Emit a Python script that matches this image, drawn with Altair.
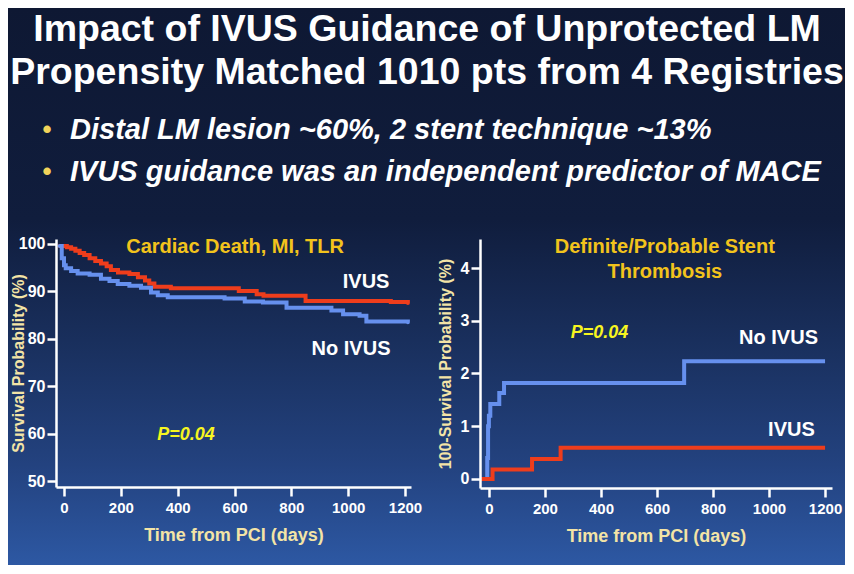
import altair as alt
import pandas as pd

FONT = "Liberation Sans, Arial, Helvetica, sans-serif"
RED = "#ee3d1c"
BLUE = "#6690ee"
WHITE = "#ffffff"
GOLD = "#f2c31c"
CREAM = "#f3e4a6"
PYEL = "#f7f520"

# ---------------- header text ----------------
title_lines = ["Impact of IVUS Guidance of Unprotected LM",
               "Propensity Matched 1010 pts from 4 Registries"]
bullet_lines = ["Distal LM lesion ~60%, 2 stent technique ~13%",
                "IVUS guidance was an independent predictor of MACE"]

# ---------------- left panel: Cardiac Death, MI, TLR ----------------
left_ivus_day = [-15, 10, 25, 40, 55, 71, 90, 110, 130, 150, 165, 190, 230, 260,
                 285, 300, 318, 376, 615, 678, 702, 850, 1150, 1210]
left_ivus_val = [99.6, 99.3, 99.0, 98.6, 98.1, 97.7, 97.0, 96.4, 95.9, 95.3, 94.5,
                 94.0, 93.7, 93.0, 92.3, 91.7, 91.0, 90.7, 90.1, 89.4, 89.1, 88.0,
                 87.8, 87.6]
left_noivus_day = [-15, -8, 0, 6, 25, 48, 90, 130, 160, 189, 230, 271, 306, 330,
                   365, 565, 636, 700, 783, 941, 982, 1040, 1064, 1210]
left_noivus_val = [99.6, 97.0, 95.5, 94.9, 94.3, 93.8, 93.5, 92.7, 92.2, 91.6,
                   91.2, 90.8, 89.8, 89.2, 88.8, 88.5, 87.9, 87.7, 86.6, 86.0,
                   85.2, 84.9, 83.7, 83.5]

# ---------------- right panel: Stent thrombosis ----------------
right_noivus_day = [-30, -10, -6, -3, 0, 5, 37, 54, 697, 1200]
right_noivus_val = [0.0, 0.0, 0.4, 1.0, 1.2, 1.42, 1.63, 1.82, 2.23, 2.23]
right_ivus_day = [-30, 13, 154, 256, 1200]
right_ivus_val = [0.0, 0.18, 0.38, 0.59, 0.59]

groups = ["IVUS", "No IVUS"]
colors = [RED, BLUE]

x_ticks = [0, 200, 400, 600, 800, 1000, 1200]
left_y_ticks = [50, 60, 70, 80, 90, 100]
right_y_ticks = [0, 1, 2, 3, 4]

# annotations (data coordinates)
left_ann_text = ["Cardiac Death, MI, TLR", "IVUS", "No IVUS", "P=0.04"]
left_ann_day = [602, 1063, 1010, 429]
left_ann_val = [99.4, 92.0, 77.9, 59.8]
right_ann_text = ["Definite/Probable Stent", "Thrombosis", "No IVUS", "IVUS", "P=0.04"]
right_ann_day = [628, 628, 1034, 1080, 395]
right_ann_val = [4.40, 3.92, 2.67, 0.93, 2.77]

left_df = pd.concat([
    pd.DataFrame({"day": left_ivus_day, "val": left_ivus_val, "group": "IVUS"}),
    pd.DataFrame({"day": left_noivus_day, "val": left_noivus_val, "group": "No IVUS"}),
])
right_df = pd.concat([
    pd.DataFrame({"day": right_noivus_day, "val": right_noivus_val, "group": "No IVUS"}),
    pd.DataFrame({"day": right_ivus_day, "val": right_ivus_val, "group": "IVUS"}),
])

color_scale = alt.Scale(domain=groups, range=colors)

one = pd.DataFrame({"k": [0]})

LW, LH = 355, 248
RW, RH = 352, 249

# background gradient rect (its own tiny view, drawn first; pixel coords
# relative to the left panel's plot origin)
gradient = {
    "gradient": "linear", "x1": 0, "x2": 0, "y1": 0, "y2": 1,
    "stops": [
        {"offset": 0.0, "color": "#0e1833"},
        {"offset": 0.38, "color": "#101d3d"},
        {"offset": 0.62, "color": "#1a3160"},
        {"offset": 0.82, "color": "#23427f"},
        {"offset": 1.0, "color": "#2d58a3"},
    ],
}
bg = alt.Chart(one).mark_rect(fill=gradient, strokeWidth=0).encode(
    x=alt.value(-47), x2=alt.value(790), y=alt.value(-231), y2=alt.value(326)
)

head = []
for i, t in enumerate(title_lines):
    head.append(alt.Chart(one).mark_text(
        text=t, font=FONT, fontSize=37.5, fontWeight="bold", color=WHITE,
        align="center", baseline="middle"
    ).encode(x=alt.value(372), y=alt.value(-209 + 43 * i)))
for i, t in enumerate(bullet_lines):
    yy = -109 + 42 * i
    head.append(alt.Chart(one).mark_text(
        text="\u2022", font=FONT, fontSize=26, fontWeight="bold", color="#f2d35a",
        align="center", baseline="middle"
    ).encode(x=alt.value(-8), y=alt.value(yy)))
    head.append(alt.Chart(one).mark_text(
        text=t, font=FONT, fontSize=29, fontWeight="bold", fontStyle="italic",
        color=WHITE, align="left", baseline="middle"
    ).encode(x=alt.value(15), y=alt.value(yy)))

bg_view = alt.layer(bg, *head).properties(width=1, height=LH)


def x_axis():
    return alt.Axis(values=x_ticks, format="d", title="Time from PCI (days)",
                    titleFontSize=18, labelFontSize=15, labelPadding=4,
                    titlePadding=11, zindex=1)


lx = alt.X("day:Q", scale=alt.Scale(domain=[-28.2, 1221], nice=False, zero=False),
           axis=x_axis())
ly = alt.Y("val:Q", scale=alt.Scale(domain=[48.84, 101.05], nice=False, zero=False),
           axis=alt.Axis(values=left_y_ticks, format="d", title="Survival Probability (%)",
                         titleFontSize=16, labelPadding=2, titlePadding=-8, zindex=1))

left_lines = alt.Chart(left_df).mark_line(
    interpolate="step-after", strokeWidth=4, strokeCap="round"
).encode(x=lx, y=ly, color=alt.Color("group:N", scale=color_scale, legend=None),
         detail="group:N")

lann = pd.DataFrame({"day": left_ann_day, "val": left_ann_val, "t": left_ann_text})
left_ann_title = alt.Chart(lann.iloc[[0]]).mark_text(
    font=FONT, fontSize=20, fontWeight="bold", color=GOLD, align="center", baseline="middle"
).encode(x="day:Q", y="val:Q", text="t:N")
left_ann_lab = alt.Chart(lann.iloc[[1, 2]]).mark_text(
    font=FONT, fontSize=20, fontWeight="bold", color=WHITE, align="center", baseline="middle"
).encode(x="day:Q", y="val:Q", text="t:N")
left_ann_p = alt.Chart(lann.iloc[[3]]).mark_text(
    font=FONT, fontSize=18, fontWeight="bold", fontStyle="italic", color=PYEL,
    align="center", baseline="middle"
).encode(x="day:Q", y="val:Q", text="t:N")

left = alt.layer(left_lines, left_ann_title, left_ann_lab, left_ann_p).properties(
    width=LW, height=LH)

rx = alt.X("day:Q", scale=alt.Scale(domain=[-31.8, 1224.8], nice=False, zero=False),
           axis=x_axis())
ry = alt.Y("val:Q", scale=alt.Scale(domain=[-0.171, 4.55], nice=False, zero=False),
           axis=alt.Axis(values=right_y_ticks, format="d", title="100-Survival Probability (%)",
                         titleFontSize=16, labelPadding=2, titlePadding=7, zindex=1))

right_lines = alt.Chart(right_df).mark_line(
    interpolate="step-after", strokeWidth=4
).encode(x=rx, y=ry, color=alt.Color("group:N", scale=color_scale, legend=None),
         detail="group:N")

rann = pd.DataFrame({"day": right_ann_day, "val": right_ann_val, "t": right_ann_text})
right_ann_title = alt.Chart(rann.iloc[[0, 1]]).mark_text(
    font=FONT, fontSize=20, fontWeight="bold", color=GOLD, align="center", baseline="middle"
).encode(x="day:Q", y="val:Q", text="t:N")
right_ann_lab = alt.Chart(rann.iloc[[2, 3]]).mark_text(
    font=FONT, fontSize=20, fontWeight="bold", color=WHITE, align="center", baseline="middle"
).encode(x="day:Q", y="val:Q", text="t:N")
right_ann_p = alt.Chart(rann.iloc[[4]]).mark_text(
    font=FONT, fontSize=18, fontWeight="bold", fontStyle="italic", color=PYEL,
    align="center", baseline="middle"
).encode(x="day:Q", y="val:Q", text="t:N")

right = alt.layer(right_lines, right_ann_title, right_ann_lab, right_ann_p).properties(
    width=RW, height=RH)

panels = alt.hconcat(left, right, spacing=69, bounds="flush")

chart = alt.hconcat(bg_view, panels, spacing=-1, bounds="flush").properties(
    padding=0, background="#0e1833"
).configure_view(stroke=None, fill=None).configure_axis(
    grid=False,
    domainColor=WHITE, domainWidth=2.5,
    tickColor=WHITE, tickWidth=2.5, tickSize=9,
    labelColor=WHITE, labelFont=FONT, labelFontSize=16, labelFontWeight="bold",
    titleColor=CREAM, titleFont=FONT, titleFontWeight="bold",
)

chart.save("out.html", embed_options={"renderer": "svg", "actions": False})
